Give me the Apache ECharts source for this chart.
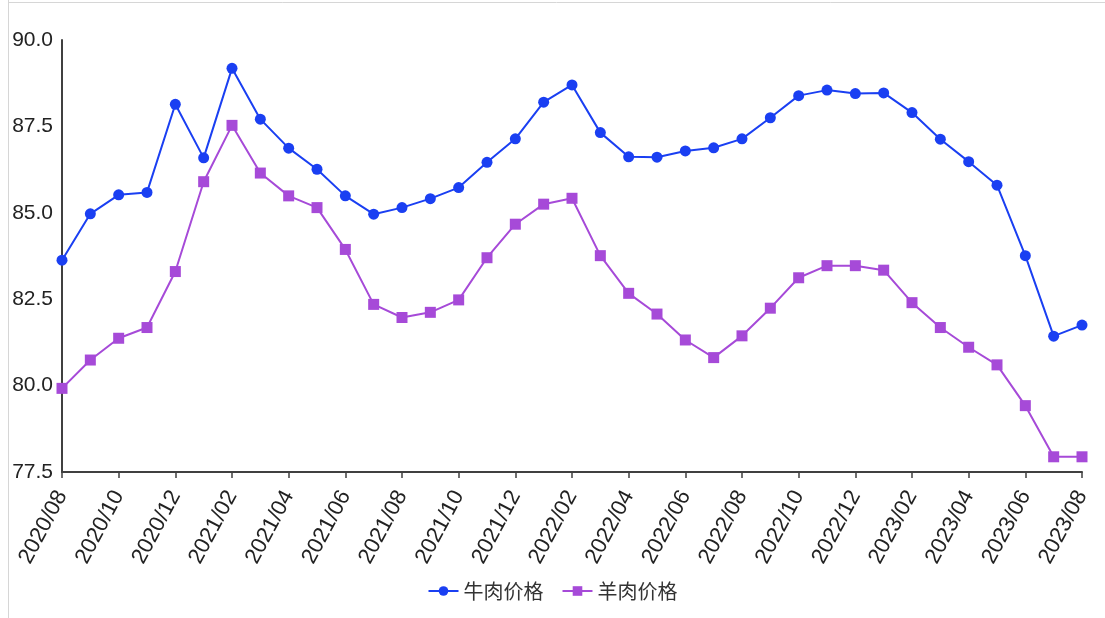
<!DOCTYPE html>
<html><head><meta charset="utf-8">
<script src="https://cdn.jsdelivr.net/npm/echarts@6/dist/echarts.min.js"></script>
<style>html,body{margin:0;padding:0;background:#fff}#c{width:1105px;height:618px}</style>
</head><body><div id="c"></div>
<script>
const categories = ['2020/08','2020/09','2020/10','2020/11','2020/12','2021/01','2021/02','2021/03','2021/04','2021/05','2021/06','2021/07','2021/08','2021/09','2021/10','2021/11','2021/12','2022/01','2022/02','2022/03','2022/04','2022/05','2022/06','2022/07','2022/08','2022/09','2022/10','2022/11','2022/12','2023/01','2023/02','2023/03','2023/04','2023/05','2023/06','2023/07','2023/08'];
const beef = [83.63,84.97,85.52,85.59,88.14,86.59,89.18,87.71,86.87,86.26,85.49,84.96,85.15,85.41,85.73,86.46,87.14,88.20,88.70,87.32,86.62,86.61,86.79,86.88,87.14,87.75,88.39,88.55,88.45,88.47,87.90,87.13,86.48,85.80,83.76,81.43,81.75];
const lamb = [79.92,80.74,81.37,81.68,83.30,85.90,87.53,86.15,85.49,85.15,83.94,82.35,81.97,82.12,82.48,83.70,84.67,85.25,85.42,83.76,82.67,82.07,81.32,80.81,81.44,82.24,83.12,83.47,83.47,83.34,82.40,81.68,81.11,80.60,79.42,77.94,77.94];
const seriesNames = ['牛肉价格','羊肉价格'];

const chart = echarts.init(document.getElementById('c'));
const font = 'Liberation Sans, DejaVu Sans, Noto Sans CJK SC';
chart.setOption({
  animation:false,
  graphic:[
    {type:'line', shape:{x1:8.5,y1:0,x2:8.5,y2:618}, style:{stroke:'#d6d6d6',lineWidth:1}},
    {type:'line', shape:{x1:8,y1:2.5,x2:1105,y2:2.5}, style:{stroke:'#d6d6d6',lineWidth:1}}
  ],
  grid:{left:62,right:23,top:40,bottom:146},
  legend:{bottom:12,left:'center',itemWidth:30,itemHeight:12,itemGap:18,
    textStyle:{fontSize:20,color:'#333',fontFamily:'Noto Sans CJK SC'},
    data:seriesNames},
  xAxis:{type:'category',data:categories,boundaryGap:false,
    axisLine:{lineStyle:{color:'#404040',width:2}},
    axisTick:{show:true,interval:1,length:6,lineStyle:{color:'#404040',width:1.5}},
    axisLabel:{interval:1,rotate:62,fontSize:22,color:'#222',fontFamily:font,margin:20}},
  yAxis:{type:'value',min:77.5,max:90,interval:2.5,
    axisLine:{show:true,lineStyle:{color:'#404040',width:2}},
    axisTick:{show:false},splitLine:{show:false},
    axisLabel:{fontSize:21,color:'#222',fontFamily:font,margin:9,formatter:v=>v.toFixed(1)}},
  series:[
    {name:seriesNames[0],type:'line',data:beef,symbol:'circle',symbolSize:11,
      itemStyle:{color:'#1a3ff2'},lineStyle:{width:2,color:'#1a3ff2'}},
    {name:seriesNames[1],type:'line',data:lamb,symbol:'rect',symbolSize:11,
      itemStyle:{color:'#a64ad8'},lineStyle:{width:2,color:'#a64ad8'}}
  ]
});
</script></body></html>
